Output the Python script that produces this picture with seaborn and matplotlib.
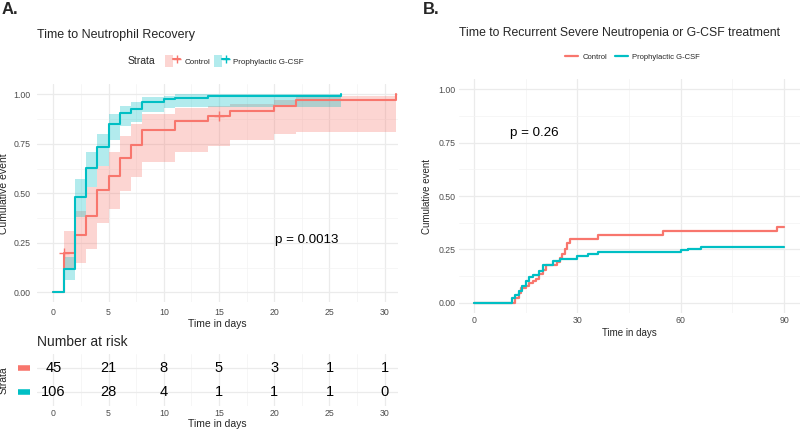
import numpy as np
import pandas as pd
import matplotlib
matplotlib.use("Agg")
import matplotlib.pyplot as plt
import seaborn as sns
from matplotlib.lines import Line2D
from matplotlib.patches import Patch
from matplotlib.legend_handler import HandlerTuple

# ---- data ----
groups = ["Control", "Prophylactic G-CSF"]

# panel A: time to neutrophil recovery (cumulative event, with CI band)
ctrl_time = [0, 1, 2, 3, 4, 5, 6, 7, 8, 11, 14, 16, 20, 22, 31]
ctrl_est = [0, 0.20, 0.29, 0.385, 0.515, 0.585, 0.68, 0.745, 0.82, 0.865, 0.89, 0.915, 0.94, 0.97, 1.0]
ctrl_lo = [0, 0.12, 0.15, 0.22, 0.35, 0.42, 0.51, 0.58, 0.66, 0.71, 0.74, 0.77, 0.80, 0.81, 0.81]
ctrl_hi = [0, 0.31, 0.41, 0.53, 0.64, 0.71, 0.79, 0.85, 0.90, 0.93, 0.94, 0.95, 0.97, 0.99, 0.99]
ctrl_censor_time = [1, 15]
ctrl_censor_est = [0.20, 0.89]

gcsf_time = [0, 1, 2, 3, 4, 5, 6, 7, 8, 10, 11, 14, 26]
gcsf_est = [0, 0.12, 0.48, 0.63, 0.735, 0.85, 0.905, 0.925, 0.96, 0.975, 0.983, 0.99, 1.0]
gcsf_lo = [0, 0.06, 0.38, 0.53, 0.64, 0.77, 0.84, 0.86, 0.91, 0.93, 0.935, 0.935, 0.935]
gcsf_hi = [0, 0.18, 0.57, 0.71, 0.80, 0.90, 0.94, 0.96, 0.985, 0.99, 1.0, 1.0, 1.0]

risk_times = [0, 5, 10, 15, 20, 25, 30]
risk_ctrl = [45, 21, 8, 5, 3, 1, 1]
risk_gcsf = [106, 28, 4, 1, 1, 1, 0]

# panel B: time to recurrent severe neutropenia or G-CSF treatment
ctrlB_time = [0, 12, 13, 13.5, 15, 16, 17, 18, 19, 20, 21, 24, 25, 25.5, 26.5, 27, 28, 36, 55, 88, 90]
ctrlB_est = [0, 0.022, 0.045, 0.067, 0.078, 0.09, 0.10, 0.11, 0.135, 0.155, 0.175, 0.19, 0.21,
             0.23, 0.25, 0.28, 0.30, 0.315, 0.335, 0.355, 0.355]
gcsfB_time = [0, 11, 12, 13, 14, 15, 16, 17, 19, 20, 23, 25, 30, 33, 36, 60, 62, 66, 90]
gcsfB_est = [0, 0.02, 0.035, 0.055, 0.08, 0.10, 0.12, 0.13, 0.15, 0.175, 0.195, 0.205, 0.22,
             0.23, 0.237, 0.245, 0.253, 0.262, 0.262]

p_A = "p = 0.0013"
p_B = "p = 0.26"

# ---- style ----
sns.set_theme(style="whitegrid")
plt.rcParams['font.family'] = ['Liberation Sans', 'DejaVu Sans']
RED = "#F8766D"
TEAL = "#00BFC4"
palette = {groups[0]: RED, groups[1]: TEAL}
GRID = "#EBEBEB"
TICKC = "#4D4D4D"


def style_axis(ax, ticks=True):
    for s in ax.spines.values():
        s.set_visible(False)
    ax.set_facecolor("white")
    ax.grid(which="major", color=GRID, linewidth=0.9)
    ax.grid(which="minor", color="#F3F3F3", linewidth=0.5)
    ax.tick_params(axis="both", which="major", labelsize=6.3, colors=TICKC,
                   length=2.5 if ticks else 0, width=0.7, pad=2)
    ax.tick_params(axis="both", which="minor", length=0)
    ax.set_axisbelow(True)


fig = plt.figure(figsize=(8, 4.3), dpi=100)

# ---------------- panel A ----------------
axA = fig.add_axes([36.7 / 800, 1 - 302.2 / 430, (398 - 36.7) / 800, (302.2 - 84.4) / 430])
dfA = pd.concat([
    pd.DataFrame({"time": ctrl_time, "est": ctrl_est, "lo": ctrl_lo, "hi": ctrl_hi, "strata": groups[0]}),
    pd.DataFrame({"time": gcsf_time, "est": gcsf_est, "lo": gcsf_lo, "hi": gcsf_hi, "strata": groups[1]}),
])
for g, sub in dfA.groupby("strata", sort=False):
    axA.fill_between(sub["time"], sub["lo"], sub["hi"], step="post",
                     color=palette[g], alpha=0.3, linewidth=0)
sns.lineplot(data=dfA, x="time", y="est", hue="strata", palette=palette,
             drawstyle="steps-post", estimator=None, errorbar=None,
             linewidth=1.5, legend=False, ax=axA)
axA.plot(ctrl_censor_time, ctrl_censor_est, ls="none", marker="+", ms=7, mew=1.0, color=RED)

axA.set_xlim(-1.5, 31.2)
axA.set_ylim(-0.05, 1.05)
axA.set_xticks(range(0, 31, 5))
axA.set_xticks(np.arange(2.5, 31, 5), minor=True)
axA.set_yticks([0, 0.25, 0.5, 0.75, 1.0])
axA.set_yticks([0.125, 0.375, 0.625, 0.875], minor=True)
axA.set_yticklabels(["0.00", "0.25", "0.50", "0.75", "1.00"])
style_axis(axA)
axA.set_xlabel("Time in days", fontsize=7.5, labelpad=1)
axA.set_ylabel("Cumulative event", fontsize=7.5)
axA.yaxis.set_label_coords(-0.078, 0.5)
axA.text(0.66, 0.285, p_A, transform=axA.transAxes, fontsize=9.6, color="black", va="center")

fig.text(37 / 800, 1 - 35 / 430, "Time to Neutrophil Recovery", fontsize=9, va="center", ha="left")
fig.text(0.002, 1 - 9 / 430, "A.", fontsize=12, fontweight="bold", va="center", ha="left")

# legend for A
fig.text(128 / 800, 1 - 61 / 430, "Strata", fontsize=7.5, va="center", ha="left")
handlesA = [(Patch(facecolor=c, alpha=0.3, linewidth=0),
             Line2D([], [], color=c, lw=1.5, marker="+", ms=6, mew=1.0)) for c in (RED, TEAL)]
legA = fig.legend(handlesA, groups, loc="center left", bbox_to_anchor=(161 / 800, 1 - 61 / 430),
                  ncol=2, frameon=False, fontsize=5.8, handlelength=1.9, handleheight=1.9,
                  handletextpad=0.5, columnspacing=0.5, borderpad=0,
                  handler_map={tuple: HandlerTuple(ndivide=None, pad=0)})

# risk table
axR = fig.add_axes([36.7 / 800, 1 - 406 / 430, (398 - 36.7) / 800, (406 - 354) / 430])
riskdf = pd.DataFrame({"time": risk_times * 2,
                       "n": risk_ctrl + risk_gcsf,
                       "row": [1] * len(risk_times) + [2] * len(risk_times)})
for _, r in riskdf.iterrows():
    axR.text(r["time"], r["row"], str(int(r["n"])), ha="center", va="center", fontsize=10.5, color="black")
axR.set_xlim(-1.5, 31.2)
axR.set_ylim(2.6, 0.4)
axR.set_xticks(range(0, 31, 5))
axR.set_xticks(np.arange(2.5, 31, 5), minor=True)
axR.set_yticks([1, 2])
axR.set_yticklabels(["", ""])
style_axis(axR, ticks=False)
axR.set_xlabel("Time in days", fontsize=7.5, labelpad=1)
axR.set_ylabel("Strata", fontsize=7.5)
axR.yaxis.set_label_coords(-0.078, 0.5)
for row, c in zip([1, 2], [RED, TEAL]):
    axR.plot([-0.052, -0.018], [row, row], transform=axR.get_yaxis_transform(),
             color=c, lw=4, solid_capstyle="butt", clip_on=False)
fig.text(37 / 800, 1 - 342 / 430, "Number at risk", fontsize=10, va="center", ha="left")

# ---------------- panel B ----------------
axB = fig.add_axes([458.5 / 800, 1 - 313.3 / 430, (799.5 - 458.5) / 800, (313.3 - 78.7) / 430])
dfB = pd.concat([
    pd.DataFrame({"time": ctrlB_time, "est": ctrlB_est, "strata": groups[0]}),
    pd.DataFrame({"time": gcsfB_time, "est": gcsfB_est, "strata": groups[1]}),
])
sns.lineplot(data=dfB, x="time", y="est", hue="strata", palette=palette,
             drawstyle="steps-post", estimator=None, errorbar=None,
             linewidth=1.6, legend=False, ax=axB)
axB.set_xlim(-4.5, 94.5)
axB.set_ylim(-0.05, 1.05)
axB.set_xticks([0, 30, 60, 90])
axB.set_xticks([15, 45, 75], minor=True)
axB.set_yticks([0, 0.25, 0.5, 0.75, 1.0])
axB.set_yticks([0.125, 0.375, 0.625, 0.875], minor=True)
axB.set_yticklabels(["0.00", "0.25", "0.50", "0.75", "1.00"])
style_axis(axB, ticks=False)
axB.set_xlabel("Time in days", fontsize=7, labelpad=2)
axB.set_ylabel("Cumulative event", fontsize=7)
axB.yaxis.set_label_coords(-0.079, 0.5)
axB.text(0.152, 0.77, p_B, transform=axB.transAxes, fontsize=9.6, color="black", va="center")

fig.text(459 / 800, 1 - 33 / 430, "Time to Recurrent Severe Neutropenia or G-CSF treatment",
         fontsize=8.8, va="center", ha="left")
fig.text(423 / 800, 1 - 9 / 430, "B.", fontsize=12, fontweight="bold", va="center", ha="left")
handlesB = [Line2D([], [], color=c, lw=1.6) for c in (RED, TEAL)]
fig.legend(handlesB, groups, loc="center left", bbox_to_anchor=(561 / 800, 1 - 57 / 430),
           ncol=2, frameon=False, fontsize=5.5, handlelength=1.7,
           handletextpad=0.6, columnspacing=1.0, borderpad=0)

fig.savefig("out.png", dpi=100, facecolor="white")
